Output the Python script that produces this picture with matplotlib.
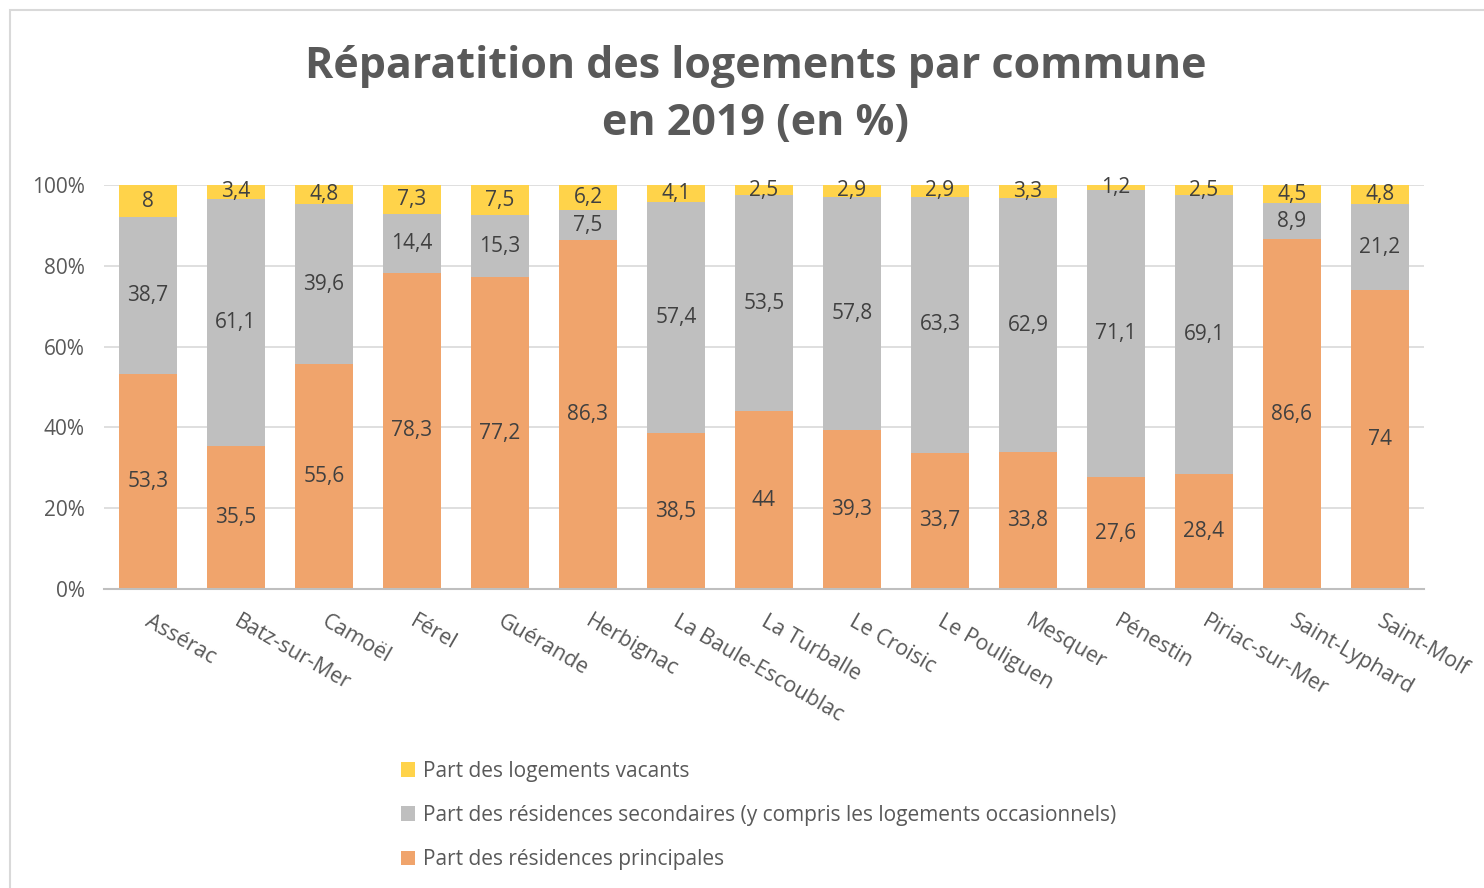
import numpy as np
import matplotlib
matplotlib.use("Agg")
import matplotlib.pyplot as plt
from matplotlib.patches import Rectangle

# communes and the three shares (en %)
communes = ["Assérac", "Batz-sur-Mer", "Camoël", "Férel", "Guérande", "Herbignac",
            "La Baule-Escoublac", "La Turballe", "Le Croisic", "Le Pouliguen",
            "Mesquer", "Pénestin", "Piriac-sur-Mer", "Saint-Lyphard", "Saint-Molf"]
principales = [53.3, 35.5, 55.6, 78.3, 77.2, 86.3, 38.5, 44, 39.3, 33.7, 33.8, 27.6, 28.4, 86.6, 74]
secondaires = [38.7, 61.1, 39.6, 14.4, 15.3, 7.5, 57.4, 53.5, 57.8, 63.3, 62.9, 71.1, 69.1, 8.9, 21.2]
vacants = [8, 3.4, 4.8, 7.3, 7.5, 6.2, 4.1, 2.5, 2.9, 2.9, 3.3, 1.2, 2.5, 4.5, 4.8]

lbl_vac = "Part des logements vacants"
lbl_sec = "Part des résidences secondaires (y compris les logements occasionnels)"
lbl_pri = "Part des résidences principales"

c_pri = "#F0A46C"
c_sec = "#BFBFBF"
c_vac = "#FFD34A"
txt = "#595959"
lab = "#404040"

plt.rcParams['font.family'] = ['Open Sans', 'DejaVu Sans']

W, H = 1484, 888
fig = plt.figure(figsize=(W / 100, H / 100), dpi=100)
ax = fig.add_axes([104 / W, 1 - 589 / H, (1424 - 104) / W, (589 - 185) / H])

x = np.arange(len(communes))
pri = np.array(principales)
sec = np.array(secondaires)
vac = np.array(vacants)
tot = pri + sec + vac
p = pri / tot * 100
s = sec / tot * 100
v = vac / tot * 100

bw = 0.66
b1 = ax.bar(x, p, bw, color=c_pri, label=lbl_pri, zorder=2)
b2 = ax.bar(x, s, bw, bottom=p, color=c_sec, label=lbl_sec, zorder=2)
b3 = ax.bar(x, v, bw, bottom=p + s, color=c_vac, label=lbl_vac, zorder=2)

def fmt(val):
    return ("%g" % val).replace(".", ",")

for i in range(len(communes)):
    ax.text(x[i], p[i] / 2, fmt(pri[i]), ha="center", va="center", fontsize=15, color=lab, zorder=3)
    ax.text(x[i], p[i] + s[i] / 2, fmt(sec[i]), ha="center", va="center", fontsize=15, color=lab, zorder=3)
    ax.text(x[i], p[i] + s[i] + v[i] / 2, fmt(vac[i]), ha="center", va="center", fontsize=15, color=lab, zorder=3)

ax.set_xlim(-0.5, len(communes) - 0.5)
ax.set_ylim(0, 100)
ax.set_yticks([0, 20, 40, 60, 80, 100])
ax.set_yticklabels(["0%", "20%", "40%", "60%", "80%", "100%"])
ax.tick_params(axis="y", length=0, labelsize=15, labelcolor=txt, pad=14)
ax.set_xticks(x)
ax.set_xticklabels([])
ax.tick_params(axis="x", length=0)
for i, c in enumerate(communes):
    ax.text(x[i] + 0.05, -5.5, c, rotation=-30, rotation_mode="anchor", ha="left", va="top",
            fontsize=15.5, color=txt, transform=ax.transData, clip_on=False)

ax.grid(axis="y", color="#D9D9D9", linewidth=1.2, zorder=0)
for sp in ["top", "right", "left"]:
    ax.spines[sp].set_visible(False)
ax.spines["bottom"].set_color("#BFBFBF")
ax.spines["bottom"].set_linewidth(1.5)
ax.spines["bottom"].set_zorder(4)

fig.text(756 / W, 1 - 66 / H, "Réparatition des logements par commune", ha="center", va="center",
         fontsize=31, fontweight="bold", color=txt)
fig.text(756 / W, 1 - 124 / H, "en 2019 (en %)", ha="center", va="center",
         fontsize=31, fontweight="bold", color=txt)

leg = fig.legend(handles=[b3, b2, b1], labels=[lbl_vac, lbl_sec, lbl_pri],
                 loc="upper left", bbox_to_anchor=(382 / W, 1 - 742 / H), frameon=False,
                 fontsize=15, handlelength=0.7, handleheight=0.7, handletextpad=0.35,
                 labelspacing=1.12, labelcolor=txt)

fig.patches.append(Rectangle((10 / W, -0.01), 1.0, 1 - 10 / H + 0.01, transform=fig.transFigure,
                             fill=False, edgecolor="#D9D9D9", linewidth=1.5))

fig.savefig("out.png", dpi=100)
